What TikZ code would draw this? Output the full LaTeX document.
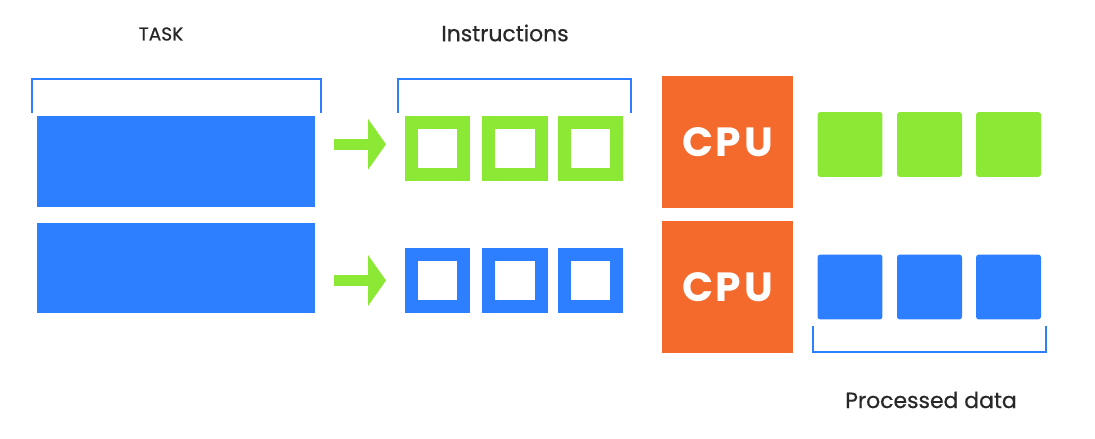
\documentclass[tikz,border=0pt]{standalone}
\usepackage{fontspec}
\setmainfont{Poppins}
\usetikzlibrary{arrows.meta, positioning}
\definecolor{taskblue}{RGB}{45, 127, 255}
\definecolor{instgreen}{RGB}{139, 232, 52}
\definecolor{cpuorange}{RGB}{244, 105, 44}
\definecolor{labelgray}{RGB}{40, 40, 40}

\begin{document}
\begin{tikzpicture}[x=0.025cm, y=0.025cm]%
        \tikzstyle{annot} = [text=labelgray, inner sep=0pt, font=\fontsize{15.6}{18}\selectfont\addfontfeatures{FakeBold=0.6}]
        \tikzstyle{bar} = [fill=taskblue, minimum width=197.8pt, minimum height=64.7pt, inner sep=0pt]
        \tikzstyle{hollow} = [draw, line width=9.25pt, minimum size=37pt, inner sep=0pt]
        \tikzstyle{databox} = [rounded corners=2pt, minimum size=46.2pt, inner sep=0pt]
        \tikzstyle{cpubox} = [fill=cpuorange, minimum size=93.2pt, inner sep=0pt, text=white, font=\fontsize{29}{32}\selectfont\bfseries\addfontfeatures{LetterSpace=7}]
        \tikzstyle{bracket} = [taskblue, line width=1.8pt]
        \tikzstyle{arw} = [instgreen, line width=7.8pt, -{Triangle[length=12.8pt, width=35.6pt]}]

        \useasboundingbox (0,0) rectangle (1095,439);

        % task
        \node[annot, font=\fontsize{13.2}{16}\selectfont\addfontfeatures{FakeBold=0.6}] (tasklabel) at (161,405) {TASK};
        \draw[bracket] (32,326) -- (32,360) -- (321,360) -- (321,326);
        \node[bar] (task1) at (176,277.5) {};
        \node[bar] (task2) at (176,171) {};

        % instructions
        \node[annot] (instlabel) at (505,406) {Instructions};
        \draw[bracket] (398,326) -- (398,360) -- (631,360) -- (631,326);
        \foreach \i/\x in {1/437.5, 2/515, 3/590.5}{
          \node[hollow, draw=instgreen] (topinst\i) at (\x,290.5) {};
          \node[hollow, draw=taskblue] (botinst\i) at (\x,158.5) {};
        }
        \draw[arw] ([xshift=-50.5pt, yshift=3pt]topinst1.west) -- ([xshift=-13.5pt, yshift=3pt]topinst1.west);
        \draw[arw] ([xshift=-50.5pt]botinst1.west) -- ([xshift=-13.5pt]botinst1.west);

        % cpus
        \node[cpubox] (cpu1) at (727.5,297) {CPU};
        \node[cpubox] (cpu2) at (727.5,152) {CPU};

        % processed data
        \foreach \i/\x in {1/850, 2/929.5, 3/1008.5}{
          \node[databox, fill=instgreen] (topdata\i) at (\x,294.5) {};
          \node[databox, fill=taskblue] (botdata\i) at (\x,152) {};
        }
        \draw[bracket] (813,113) -- (813,87) -- (1046,87) -- (1046,113);
        \node[annot] (datalabel) at (931,39) {Processed data};
      \end{tikzpicture}
\end{document}
